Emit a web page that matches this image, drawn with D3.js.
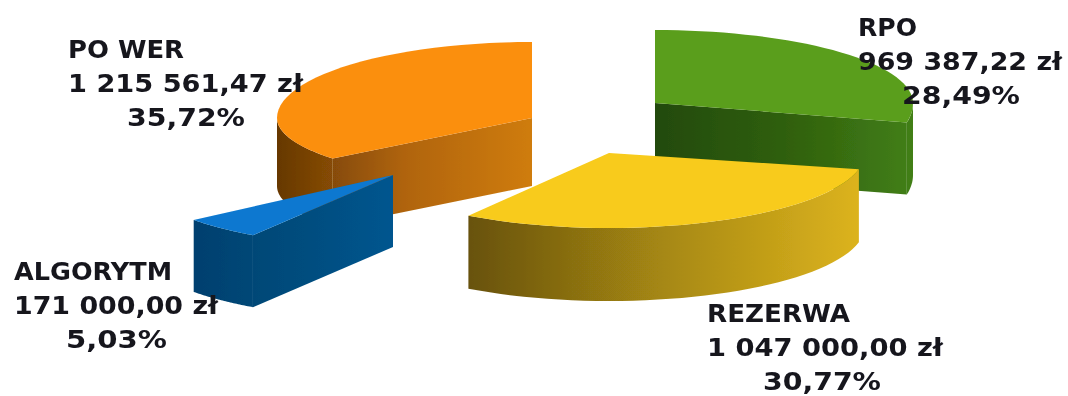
<!DOCTYPE html>
<html><head><meta charset="utf-8">
<script src="https://cdn.jsdelivr.net/npm/d3@7"></script>
<style>html,body{margin:0;padding:0;background:#fff}svg{display:block}</style>
</head><body><svg id="c" width="1068" height="396"></svg>
<script>
// data
const categories = ["RPO","REZERWA","ALGORYTM","PO WER"];
const values = [969387.22,1047000.00,171000.00,1215561.47];
const amountLabels = ["969 387,22 zł","1 047 000,00 zł","171 000,00 zł","1 215 561,47 zł"];
const percentLabels = ["28,49%","30,77%","5,03%","35,72%"];
const topColors = ["#5a9e1c","#f8cb1a","#0a78d0","#fb8f10"];
const wallStops = [
  ["#234a0a","#2f5f0e","#427f15"],
  ["#685210","#a68812","#dcb31e"],
  ["#03406f","#044c7c","#04558f"],
  ["#663804","#b0640a","#cf7c0a"]
];
// layout: exploded apex of each slice, radii, label placement
const apexX = [655,609,393,532], apexY = [103,153,175,118];
const radX = [258,256,255,255], radYBack = [73,75,72,76], radYFront = [90,75,72,65];
const depth = [72,73,72,68];
const labelX = [858,707,14,68], labelY = [36,322,280,58];
const percentX = [902,763,66,127];
const lineW = [[59,204,118],[143,236,118],[158,204,101],[116,235,118]];
const paintOrder = [0,3,2,1];

const svg = d3.select("#c");
const defs = svg.append("defs");
defs.append("filter").attr("id","soft").attr("x","-5%").attr("y","-5%").attr("width","110%").attr("height","110%")
  .append("feGaussianBlur").attr("stdDeviation",0.6);
const pie = d3.pie().sort(null)(values);
const line = d3.line();
const gSlices = svg.append("g").attr("filter","url(#soft)");

function pt(i,a,h=0){
  const c = Math.cos(a), ry = c>0 ? radYBack[i] : radYFront[i];
  return [apexX[i]+radX[i]*Math.sin(a), apexY[i]-ry*c+h];
}
function arcPts(i,a0,a1,h=0){
  return d3.range(0,41).map(k=>pt(i,a0+(a1-a0)*k/40,h));
}
pie.forEach((p,i)=>{
  const g = defs.append("linearGradient").attr("id","w"+i).attr("gradientUnits","userSpaceOnUse");
  const xs = [apexX[i],...arcPts(i,p.startAngle,p.endAngle).map(q=>q[0])];
  g.attr("x1",d3.min(xs)).attr("x2",d3.max(xs)).attr("y1",0).attr("y2",0);
  wallStops[i].forEach((c,k)=>g.append("stop").attr("offset",k/2).attr("stop-color",c));
});
paintOrder.forEach(i=>{
  const p = pie[i], d = depth[i], g = gSlices.append("g");
  const mid = (p.startAngle+p.endAngle)/2, mp = pt(i,mid), ap=[apexX[i],apexY[i]];
  [p.startAngle,p.endAngle].forEach(a=>{
    const e = pt(i,a);
    const t = (mp[0]-ap[0])/(e[0]-ap[0]);
    const onEdgeY = ap[1]+(e[1]-ap[1])*t;
    if (mp[1] < onEdgeY) {
      g.append("path").attr("fill",`url(#w${i})`)
       .attr("d",line([ap,e,[e[0],e[1]+d],[ap[0],ap[1]+d]])+"Z");
    }
  });
  const a0 = Math.max(p.startAngle,Math.PI/2), a1 = Math.min(p.endAngle,Math.PI*1.5);
  if (a1>a0){
    g.append("path").attr("fill",`url(#w${i})`)
     .attr("d",line([...arcPts(i,a0,a1),...arcPts(i,a1,a0,d)])+"Z");
  }
  g.append("path").attr("fill",topColors[i])
   .attr("d",line([ap,...arcPts(i,p.startAngle,p.endAngle)])+"Z");
});

const gText = svg.append("g").attr("font-family","'DejaVu Sans'").attr("font-weight","bold")
  .attr("font-size",25).attr("fill","#14141e").attr("filter","url(#soft)");
categories.forEach((c,i)=>{
  [c,amountLabels[i],percentLabels[i]].forEach((s,k)=>{
    const x = k<2 ? labelX[i] : percentX[i];
    gText.append("text").attr("x",x).attr("y",labelY[i]+k*34)
      .attr("textLength",lineW[i][k]).attr("lengthAdjust","spacingAndGlyphs").text(s);
  });
});
</script></body></html>
